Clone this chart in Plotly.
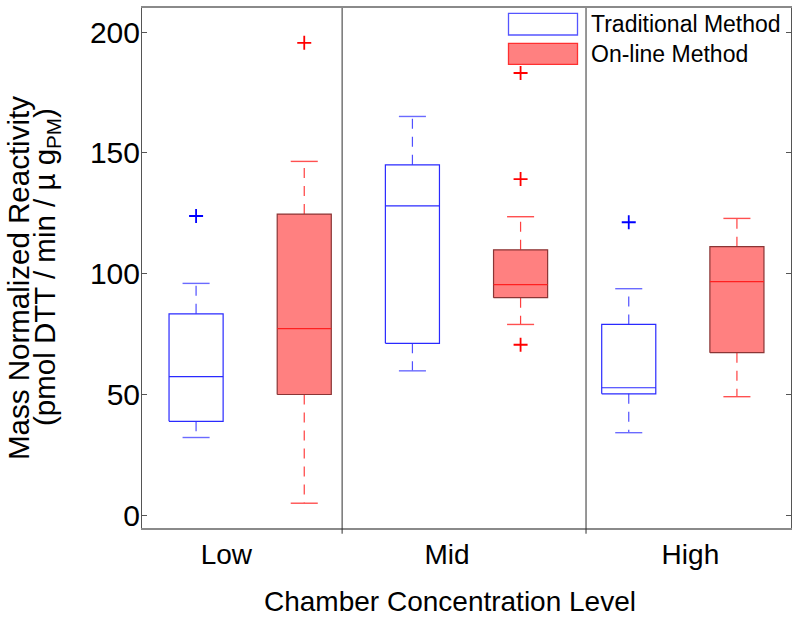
import plotly.graph_objects as go

# ---------------- data ----------------
CATEGORIES = ["Low", "Mid", "High"]
METHODS = ["Traditional Method", "On-line Method"]

# per category, Traditional method
TRAD_Q1 = [38.9, 71.2, 50.3]
TRAD_MED = [57.4, 128.1, 52.8]
TRAD_Q3 = [83.4, 145.1, 79.0]
TRAD_LOW = [32.2, 59.8, 34.2]
TRAD_HIGH = [96.0, 165.1, 93.8]
TRAD_OUT = [[123.9], [], [121.3]]

# per category, On-line method
ONL_Q1 = [50.0, 90.1, 67.3]
ONL_MED = [77.3, 95.5, 96.7]
ONL_Q3 = [124.7, 109.9, 111.2]
ONL_LOW = [5.0, 79.0, 49.1]
ONL_HIGH = [146.5, 123.6, 122.9]
ONL_OUT = [[195.6], [183.1, 139.2, 70.6], []]

Y_TICKS = [0, 50, 100, 150, 200]

FONT = "Liberation Sans, Arial, sans-serif"

# ---------------- styles ----------------
STYLE = {
    0: dict(fill="rgba(255,255,255,0)", edge="#2a2aff", med="#2a2aff",
            whisk="#5050ff", cap="#6a6aff", out="#0000ff"),
    1: dict(fill="#ff8080", edge="#8a3535", med="#ff2020",
            whisk="#ff4040", cap="#ff5050", out="#ff0000"),
}
HALF_W = 0.25
CAP_HALF = 0.125

stats = {
    0: (TRAD_Q1, TRAD_MED, TRAD_Q3, TRAD_LOW, TRAD_HIGH, TRAD_OUT),
    1: (ONL_Q1, ONL_MED, ONL_Q3, ONL_LOW, ONL_HIGH, ONL_OUT),
}

fig = go.Figure()

for m in (0, 1):
    q1s, meds, q3s, lows, highs, outs = stats[m]
    st = STYLE[m]
    bx, by, mx, my, wx, wy, cx, cy, ox, oy = ([] for _ in range(10))
    for g in range(len(CATEGORIES)):
        pos = 2 * g + m + 1
        q1, med, q3, lo, hi = q1s[g], meds[g], q3s[g], lows[g], highs[g]
        bx += [pos - HALF_W, pos + HALF_W, pos + HALF_W, pos - HALF_W, pos - HALF_W, None]
        by += [q1, q1, q3, q3, q1, None]
        mx += [pos - HALF_W, pos + HALF_W, None]
        my += [med, med, None]
        wx += [pos, pos, None, pos, pos, None]
        wy += [q3, hi, None, q1, lo, None]
        cx += [pos - CAP_HALF, pos + CAP_HALF, None, pos - CAP_HALF, pos + CAP_HALF, None]
        cy += [hi, hi, None, lo, lo, None]
        for v in outs[g]:
            ox.append(pos)
            oy.append(v)
    fig.add_trace(go.Scatter(x=wx, y=wy, mode="lines", showlegend=False, hoverinfo="skip",
                             line=dict(color=st["whisk"], width=1.2, dash="10px,8px")))
    fig.add_trace(go.Scatter(x=cx, y=cy, mode="lines", showlegend=False, hoverinfo="skip",
                             line=dict(color=st["cap"], width=1.4)))
    fig.add_trace(go.Scatter(x=bx, y=by, mode="lines", fill="toself", fillcolor=st["fill"],
                             showlegend=False, hoverinfo="skip",
                             line=dict(color=st["edge"], width=1.2)))
    fig.add_trace(go.Scatter(x=mx, y=my, mode="lines", showlegend=False, hoverinfo="skip",
                             line=dict(color=st["med"], width=1.2)))
    fig.add_trace(go.Scatter(x=ox, y=oy, mode="markers", showlegend=False,
                             marker=dict(symbol="cross-thin", size=10,
                                         line=dict(color=st["out"], width=1.8))))

# ---------------- layout ----------------
L, R, T, B = 142, 9, 8, 92
W, H = 800, 620
pw = W - L - R
ph = H - T - B

def px_x(px):
    return (px - L) / pw

def px_y(py):
    return (H - B - py) / ph

shapes = []
# group dividers
for xv in (2.35, 4.605):
    shapes.append(dict(type="line", xref="x", yref="paper", x0=xv, x1=xv, y0=-0.011, y1=1,
                       line=dict(color="#303030", width=1)))
# legend swatches
legend_boxes = [(13.3, 35.0), (43.3, 64.3)]
for m, (ya, yb) in enumerate(legend_boxes):
    st = STYLE[m]
    shapes.append(dict(type="rect", xref="paper", yref="paper",
                       x0=px_x(508.5), x1=px_x(577.5), y0=px_y(yb), y1=px_y(ya),
                       fillcolor=st["fill"] if m == 1 else "white",
                       line=dict(color="#5555ff" if m == 0 else "#ff3030", width=1.3)))

annotations = []
legend_text_y = [24, 54]
for m, name in enumerate(METHODS):
    annotations.append(dict(text=name, xref="paper", yref="paper", x=px_x(589), y=px_y(legend_text_y[m]),
                            xanchor="left", yanchor="middle", showarrow=False,
                            font=dict(family=FONT, size=23, color="black")))
# y-axis title (two lines)
annotations.append(dict(text="Mass Normalized Reactivity", xref="paper", yref="paper",
                        x=px_x(19), y=px_y(278), textangle=-90, xanchor="center", yanchor="middle",
                        showarrow=False, font=dict(family=FONT, size=29.5, color="black")))
annotations.append(dict(text="(pmol DTT / min / \u00b5 g<sub>PM</sub>)", xref="paper", yref="paper",
                        x=px_x(46), y=px_y(267), textangle=-90, xanchor="center", yanchor="middle",
                        showarrow=False, font=dict(family=FONT, size=29.5, color="black")))
# x-axis title
annotations.append(dict(text="Chamber Concentration Level", xref="paper", yref="paper",
                        x=px_x(450), y=px_y(601), xanchor="center", yanchor="middle",
                        showarrow=False, font=dict(family=FONT, size=28, color="black")))

cat_label_x = [1.28, 3.32, 5.57]

fig.update_layout(
    width=W, height=H,
    margin=dict(l=L, r=R, t=T, b=B, pad=0, autoexpand=False),
    paper_bgcolor="white", plot_bgcolor="white",
    font=dict(family=FONT, size=28, color="black"),
    shapes=shapes, annotations=annotations,
    showlegend=False,
    xaxis=dict(range=[0.5, 6.5], tickvals=cat_label_x, ticktext=CATEGORIES, ticks="",
               showgrid=False, zeroline=False, showline=True, linecolor="#8a8a8a", linewidth=2,
               mirror=True, tickfont=dict(family=FONT, size=28, color="black"),
               ticklabelstandoff=0, automargin=False),
    yaxis=dict(range=[-5.26, 210], tickvals=Y_TICKS, ticks="inside", ticklen=5,
               tickcolor="#555555", showgrid=False, zeroline=False, showline=True,
               linecolor="#555555", linewidth=1, mirror="ticks", automargin=False,
               ticklabelstandoff=-5,
               tickfont=dict(family=FONT, size=30, color="black")),
)

fig.write_html("out.html", config={"displayModeBar": False},
               post_script="document.body.style.margin='0px';document.body.style.overflow='hidden';")
